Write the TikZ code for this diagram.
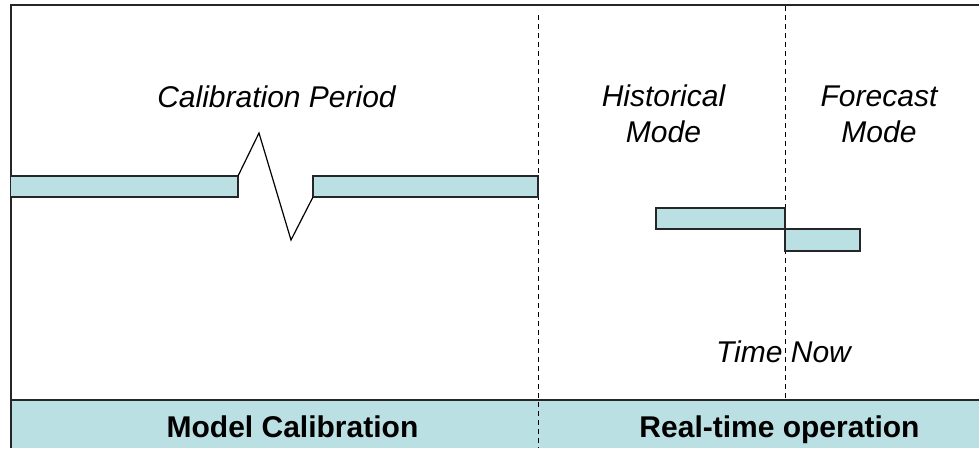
\documentclass[tikz,border=0pt]{standalone}
\usepackage{fontspec}
\setmainfont{Liberation Sans}
\begin{document}
\begin{tikzpicture}[x=1pt,y=-1pt,
  frame/.style={draw=black!85, line width=1.5pt},
  barbox/.style={draw=black!85, fill=calfill, line width=1.5pt},
  divider/.style={draw=black, line width=1pt, dash pattern=on 5pt off 4pt},
  lbl/.style={inner sep=0pt, anchor=base, font=\fontsize{30}{34}\selectfont\itshape},
  blbl/.style={inner sep=0pt, anchor=base, font=\fontsize{30}{34}\selectfont\bfseries}]
\definecolor{calfill}{RGB}{187,224,227}
\useasboundingbox (0,0) rectangle (979,448);
% bottom band
\fill[calfill] (11,400) rectangle (979,448);
% frame
\draw[frame] (979,5) -- (11,5) -- (11,448);
\draw[frame] (11,400) -- (979,400);
% dividers
\coordinate (d1t) at (538,15);
\coordinate (d1b) at (538,448);
\coordinate (d2t) at (785,6);
\coordinate (d2b) at (785,400);
\draw[divider] (d1t) -- (d1b);
\draw[divider] (d2t) -- (d2b);
% calibration bars with break
\filldraw[barbox] (11,176) -- (238,176) -- (238,197) -- (11,197);
\filldraw[barbox] (538,176) -- (313,176) -- (313,197) -- (538,197) -- cycle;
\draw[draw=black, line width=1.2pt, line join=miter] (238,176) -- (259,133) -- (291,240) -- (313,197);
% real-time bars
\filldraw[barbox] (656,208) rectangle (785,229);
\filldraw[barbox] (785,229) rectangle (860,251);
% labels
\node[lbl] (calp) at (276.5,107) {Calibration Period};
\node[lbl] (hist1) at (663.5,106) {Historical};
\node[lbl] (hist2) at (663.5,142) {Mode};
\node[lbl] (fore1) at (879,106) {Forecast};
\node[lbl] (fore2) at (879,142) {Mode};
\node[lbl] (now) at (783.5,362) {Time Now};
\node[blbl] (mc) at (292.5,437) {Model Calibration};
\node[blbl] (rt) at (779.5,437) {Real-time operation};
\end{tikzpicture}
\end{document}
